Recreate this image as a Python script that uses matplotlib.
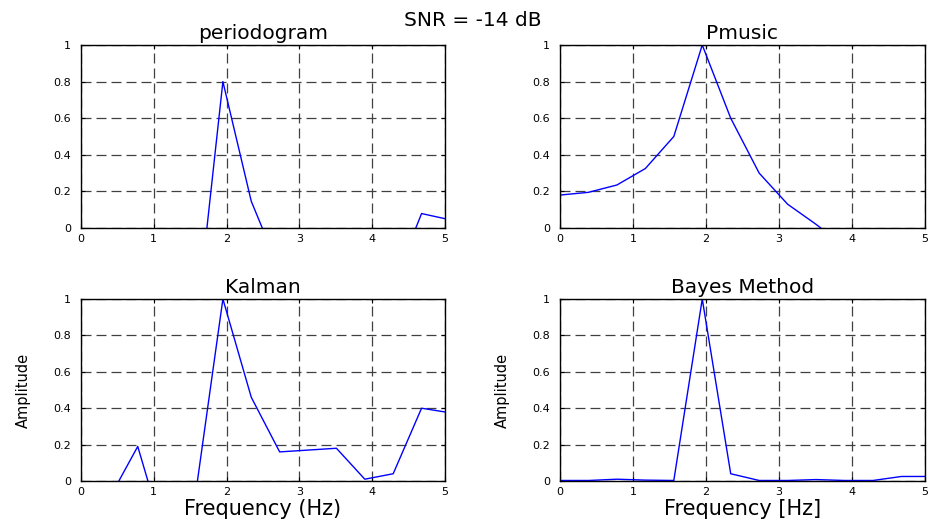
import numpy as np
import matplotlib
matplotlib.use('Agg')
from matplotlib import pyplot as plt

plt.rcParams['font.family'] = ['DejaVu Sans']

# frequency bins (Hz)
freq = [0.0, 0.39, 0.78, 1.17, 1.56, 1.95, 2.34, 2.73, 3.12, 3.51, 3.90, 4.29, 4.68, 5.07]

# amplitudes (values below 0 are clipped by the axis)
periodogram = [-0.6, -0.6, -0.6, -0.6, -0.62, 0.80, 0.146, -0.23, -0.5, -0.5, -0.5, -0.31, 0.079, 0.045]
pmusic = [0.18, 0.195, 0.235, 0.325, 0.50, 1.0, 0.60, 0.30, 0.13, 0.02, -0.1, -0.2, -0.3, -0.4]
kalman = [-0.2, -0.095, 0.19, -0.34, -0.114, 1.0, 0.46, 0.16, 0.17, 0.18, 0.01, 0.04, 0.40, 0.375]
bayes = [0.003, 0.003, 0.01, 0.005, 0.003, 1.0, 0.04, 0.003, 0.003, 0.008, 0.003, 0.003, 0.025, 0.025]

titles = ['periodogram', 'Pmusic', 'Kalman', 'Bayes Method']
series = [periodogram, pmusic, kalman, bayes]
xlabels = [None, None, 'Frequency (Hz)', 'Frequency [Hz]']
xticks = [0, 1, 2, 3, 4, 5]
yticks = [0, 0.2, 0.4, 0.6, 0.8, 1]
yticklabels = ['0', '0.2', '0.4', '0.6', '0.8', '1']

fig = plt.figure(figsize=(9.33, 5.22), dpi=100)
positions = [
    [0.0868, 0.5632, 0.390, 0.3506],
    [0.6002, 0.5632, 0.391, 0.3506],
    [0.0868, 0.0785, 0.390, 0.3487],
    [0.6002, 0.0785, 0.391, 0.3487],
]

for i in range(4):
    ax = fig.add_axes(positions[i])
    ax.plot(freq, series[i], color='#0000ff', lw=1.0)
    ax.set_xlim(0, 5)
    ax.set_ylim(0, 1)
    ax.set_xticks(xticks)
    ax.set_yticks(yticks)
    ax.set_yticklabels(yticklabels)
    ax.grid(True, color='0.25', linestyle=(0, (8, 4)), lw=0.9)
    ax.tick_params(direction='in', top=True, right=True, length=3, labelsize=8)
    ax.tick_params(axis='x', pad=4)
    ax.tick_params(axis='y', pad=7)
    for s in ax.spines.values():
        s.set_linewidth(1.0)
    ax.set_title(titles[i], fontsize=14.5, pad=4)
    if xlabels[i]:
        ax.set_xlabel(xlabels[i], fontsize=15, labelpad=2)
    if i >= 2:
        ax.set_ylabel('Amplitude', fontsize=10.5, labelpad=16)

fig.text(0.507, 0.96, 'SNR = -14 dB', ha='center', va='center', fontsize=14.5)

fig.savefig('out.png', dpi=100)
